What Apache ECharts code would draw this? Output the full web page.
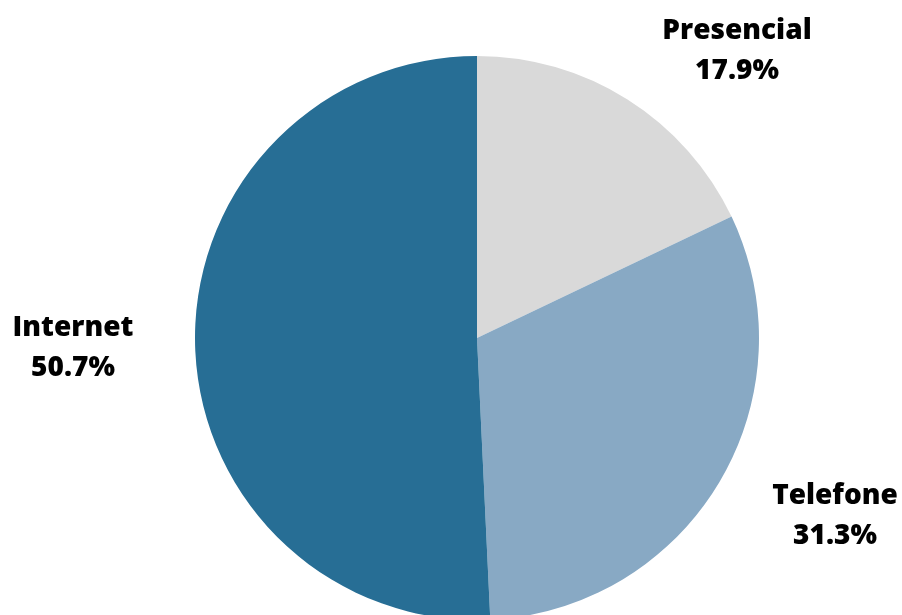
<!DOCTYPE html>
<html>
<head>
<meta charset="utf-8">
<script src="https://cdn.jsdelivr.net/npm/echarts@6/dist/echarts.min.js"></script>
<style>
html,body{margin:0;padding:0;background:#fff;}
#chart{width:902px;height:615px;}
</style>
</head>
<body>
<div id="chart"></div>
<script>
const categories = ['Presencial', 'Telefone', 'Internet'];
const values = [17.9, 31.3, 50.7];
const colors = ['#d9d9d9', '#88a9c4', '#276e95'];
const labelPos = [[737, 51], [835, 516], [73, 348]];

const chart = echarts.init(document.getElementById('chart'));
chart.setOption({
  animation: false,
  series: [{
    type: 'pie',
    center: [477, 338],
    radius: 282,
    startAngle: 90,
    clockwise: true,
    data: categories.map((c, i) => ({ name: c, value: values[i], itemStyle: { color: colors[i] } })),
    label: {
      show: true,
      position: 'outside',
      overflow: 'none',
      formatter: p => p.name + '\n' + p.value.toFixed(1) + '%',
      color: '#000',
      fontFamily: 'Open Sans',
      fontWeight: 900,
      fontSize: 28,
      lineHeight: 40,
      align: 'center'
    },
    labelLine: { show: false },
    labelLayout: function (params) {
      const p = labelPos[params.dataIndex];
      return { x: p[0], y: p[1], align: 'center', verticalAlign: 'middle' };
    },
    emphasis: { disabled: true }
  }]
});
</script>
</body>
</html>
